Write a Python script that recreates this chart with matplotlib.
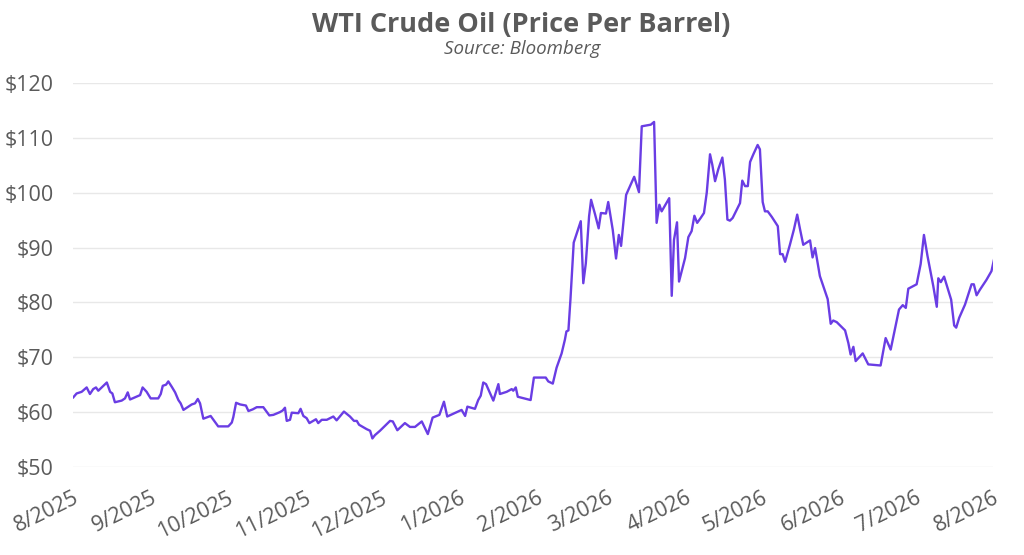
import matplotlib.pyplot as plt
import pandas as pd

# days since 2025-08-01, WTI price ($/bbl)
day = [0.0, 1.3, 3.3, 5.3, 6.6, 7.9, 9.0, 9.9, 13.3, 14.6, 15.5, 16.5, 19.2, 20.5,
       21.6, 22.5, 26.5, 27.5, 29.1, 30.7, 33.7, 34.7, 35.5, 36.8, 37.7, 39.1, 40.4,
       41.7, 42.6, 43.7, 47.0, 48.3, 49.4, 50.3, 51.6, 54.5, 55.6, 57.5, 61.5, 62.9,
       63.5, 64.6, 66.2, 68.5, 69.5, 71.2, 72.8, 75.4, 76.5, 77.8, 79.4, 82.0, 83.1,
       84.0, 84.7, 86.0, 86.7, 89.3, 90.2, 91.3, 92.6, 93.7, 96.3, 97.2, 98.6, 100.6,
       103.2, 104.5, 107.4, 109.8, 111.4, 112.5, 113.4, 116.4, 117.8, 118.7, 119.7,
       121.7, 125.7, 126.8, 128.6, 131.6, 133.6, 135.6, 138.3, 140.7, 142.6, 145.3,
       147.1, 148.4, 154.1, 155.5, 156.4, 159.4, 160.7, 161.7, 162.7, 163.8, 166.7,
       168.7, 169.3, 172.0, 174.0, 174.6, 175.6, 176.4, 181.5, 182.8, 187.5, 188.5,
       190.3, 191.8, 193.8, 195.1, 195.7, 196.5, 197.3, 198.6, 201.4, 202.4, 203.4,
       204.7, 205.5, 207.1, 208.5, 209.4, 211.4, 212.3, 214.1, 215.4, 216.5, 217.4,
       219.4, 222.6, 224.5, 225.6, 229.2, 230.5, 231.5, 232.6, 233.5, 236.5, 237.5,
       238.4, 239.6, 240.4, 242.8, 244.1, 245.4, 246.5, 247.6, 249.0, 250.3, 251.4,
       252.7, 253.6, 254.7, 256.0, 257.6, 258.6, 259.6, 260.6, 261.7, 263.3, 264.6,
       265.5, 266.6, 267.7, 268.6, 269.9, 271.6, 272.5, 273.6, 274.5, 275.6, 277.2,
       279.6, 280.5, 281.5, 282.5, 284.4, 286.0, 287.3, 288.4, 289.7, 292.4, 293.4,
       294.4, 296.3, 299.4, 300.6, 301.6, 303.0, 306.3, 307.6, 308.5, 309.6, 310.5,
       313.3, 315.5, 320.4, 322.4, 324.4, 327.7, 329.2, 330.4, 331.4, 334.7, 336.3,
       337.6, 339.0, 341.3, 342.7, 343.3, 344.3, 345.6, 348.4, 349.6, 350.4, 351.6,
       353.9, 356.5, 357.4, 358.5, 359.8, 362.4, 364.4, 365.5]
price = [62.7, 63.4, 63.7, 64.5, 63.3, 64.2, 64.5, 63.9, 65.4, 63.7, 63.4, 61.8, 62.1, 62.5,
         63.6, 62.3, 63.1, 64.5, 63.7, 62.5, 62.5, 63.3, 64.8, 65.0, 65.6, 64.6, 63.6,
         62.2, 61.6, 60.4, 61.4, 61.6, 62.4, 61.6, 58.8, 59.3, 58.6, 57.4, 57.4, 58.1,
         59.1, 61.7, 61.4, 61.2, 60.2, 60.5, 60.9, 60.9, 60.2, 59.4, 59.5, 60.0, 60.3,
         60.8, 58.4, 58.6, 59.9, 59.8, 60.6, 59.3, 58.9, 58.0, 58.7, 58.0, 58.6, 58.6,
         59.2, 58.5, 60.1, 59.2, 58.4, 58.4, 57.7, 56.9, 56.6, 55.2, 55.8,
         56.6, 58.4, 58.3, 56.7, 58.0, 57.3, 57.3, 58.3, 56.0, 59.0, 59.5,
         61.9, 59.2, 60.4, 59.3, 61.0, 60.6, 62.2, 63.0, 65.4, 65.1, 62.1,
         65.1, 63.3, 63.7, 64.2, 63.9, 64.5, 62.8, 62.2, 66.3, 66.3, 65.6,
         65.2, 68.1, 70.7, 73.2, 74.7, 74.9, 80.5, 90.9, 94.8, 83.5, 87.1,
         95.7, 98.7, 96.0, 93.5, 96.3, 96.2, 98.3, 93.2, 88.0, 92.3, 90.3,
         99.6, 102.9, 100.1, 112.1, 112.4, 112.9, 94.5, 97.8, 96.6, 99.0, 81.2,
         91.4, 94.6, 83.8, 88.1, 91.9, 93.0, 95.8, 94.5, 95.4, 96.3, 100.0,
         107.0, 105.1, 102.1, 104.3, 106.4, 102.4, 95.1, 94.9, 95.4, 96.9, 98.1,
         102.2, 101.2, 101.2, 105.6, 107.0, 108.7, 107.9, 98.3, 96.6, 96.6, 95.6,
         93.9, 88.8, 88.8, 87.4, 90.5, 93.3, 96.0, 93.4, 90.5, 91.3, 88.2,
         89.9, 84.8, 80.6, 76.1, 76.7, 76.4, 74.9, 72.6, 70.5, 71.9, 69.3,
         70.7, 68.7, 68.5, 73.5, 71.4, 78.7, 79.5, 79.0, 82.5, 83.3, 87.0,
         92.3, 88.5, 83.0, 79.2, 84.4, 83.7, 84.7, 80.5, 75.8, 75.4, 77.2,
         79.6, 83.3, 83.3, 81.3, 82.3, 84.1, 85.7, 88.0]

start = pd.Timestamp("2025-08-01")
dates = start + pd.to_timedelta(day, unit="D")

month_ticks = pd.date_range("2025-08-01", "2026-08-01", freq="MS")
yticks = [50, 60, 70, 80, 90, 100, 110, 120]

txt = "#5a5a5a"
plt.rcParams["font.family"] = ["Open Sans", "DejaVu Sans"]

fig = plt.figure(figsize=(10.24, 5.55), dpi=100)
ax = fig.add_axes([0.0716, 0.1586, 0.8981, 0.6919])

ax.plot(dates, price, color="#6a3de4", lw=1.7)

ax.set_xlim(month_ticks[0], month_ticks[-1])
ax.set_ylim(50, 120)
ax.set_yticks(yticks)
ax.set_yticklabels([f"${v}" for v in yticks])
ax.set_xticks(month_ticks)
ax.set_xticklabels([f"{d.month}/{d.year}" for d in month_ticks],
                   rotation=26, ha="right", va="top", rotation_mode="anchor")
ax.grid(axis="y", color="#e8e8e8", lw=1)
ax.set_axisbelow(True)
for s in ax.spines.values():
    s.set_visible(False)
ax.tick_params(axis="both", length=0, labelsize=15.5, colors=txt)
ax.tick_params(axis="y", pad=14)
ax.tick_params(axis="x", pad=15)

fig.text(0.509, 0.942, "WTI Crude Oil (Price Per Barrel)", ha="center", va="baseline",
         fontsize=19.5, fontweight="bold", color=txt)
fig.text(0.510, 0.902, "Source: Bloomberg", ha="center", va="baseline",
         fontsize=13.5, fontstyle="italic", color=txt)

fig.savefig("out.png", dpi=100)
